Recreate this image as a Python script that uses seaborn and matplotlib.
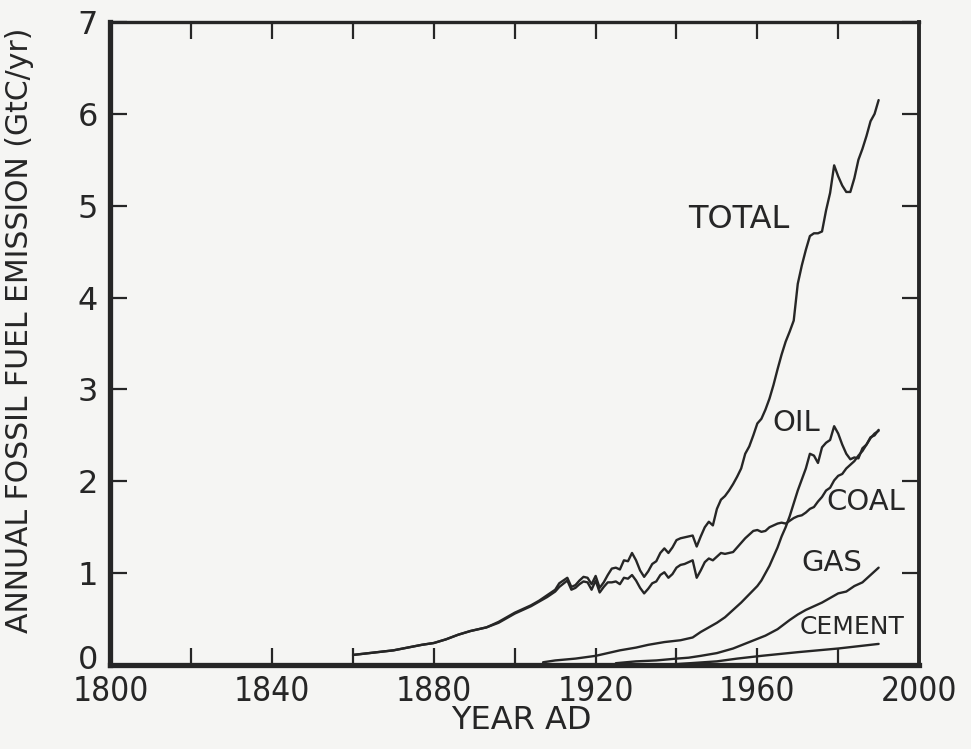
import matplotlib
matplotlib.use("Agg")
import matplotlib.pyplot as plt
import matplotlib.transforms as mtransforms
from matplotlib import font_manager
import seaborn as sns
import pandas as pd

# Annual emissions by source (GtC/yr)
total_years = [1860, 1864, 1870, 1877, 1880, 1883, 1886, 1889, 1893, 1896, 1898, 1900,
               1902, 1904, 1906, 1908, 1910, 1911, 1913, 1914, 1915, 1916, 1917, 1918,
               1919, 1920, 1921, 1922, 1923, 1924, 1925, 1926, 1927, 1928, 1929, 1930,
               1931, 1932, 1933, 1934, 1935, 1936, 1937, 1938, 1939, 1940, 1941, 1942,
               1943, 1944, 1945, 1946, 1947, 1948, 1949, 1950, 1951, 1952, 1953, 1954,
               1955, 1956, 1957, 1958, 1959, 1960, 1961, 1962, 1963, 1964, 1965, 1966,
               1967, 1968, 1969, 1970, 1971, 1972, 1973, 1974, 1975, 1976, 1977, 1978,
               1979, 1980, 1981, 1982, 1983, 1984, 1985, 1986, 1987, 1988, 1989, 1990]
total = [0.11, 0.13, 0.16, 0.22, 0.24, 0.28, 0.33, 0.37, 0.41, 0.47, 0.52, 0.57,
         0.61, 0.65, 0.70, 0.76, 0.82, 0.89, 0.95, 0.85, 0.87, 0.92, 0.96, 0.95,
         0.88, 0.97, 0.84, 0.90, 0.98, 1.05, 1.06, 1.04, 1.14, 1.13, 1.22, 1.14,
         1.03, 0.96, 1.02, 1.10, 1.13, 1.22, 1.27, 1.22, 1.28, 1.36, 1.38, 1.39,
         1.40, 1.41, 1.29, 1.40, 1.50, 1.56, 1.52, 1.70, 1.80, 1.84, 1.90, 1.97,
         2.05, 2.14, 2.30, 2.38, 2.50, 2.63, 2.68, 2.78, 2.90, 3.05, 3.22, 3.38,
         3.52, 3.63, 3.75, 4.15, 4.35, 4.52, 4.67, 4.70, 4.70, 4.72, 4.95, 5.14,
         5.44, 5.32, 5.22, 5.15, 5.15, 5.30, 5.50, 5.62, 5.76, 5.92, 6.00, 6.15]

coal_years = total_years
coal = [0.11, 0.13, 0.16, 0.22, 0.24, 0.28, 0.33, 0.37, 0.41, 0.46, 0.51, 0.56,
        0.60, 0.64, 0.69, 0.74, 0.80, 0.85, 0.92, 0.82, 0.84, 0.88, 0.91, 0.90,
        0.82, 0.92, 0.79, 0.85, 0.90, 0.90, 0.91, 0.88, 0.95, 0.94, 0.98, 0.92,
        0.84, 0.78, 0.83, 0.89, 0.91, 0.98, 1.01, 0.95, 0.99, 1.06, 1.09, 1.10,
        1.12, 1.14, 0.95, 1.03, 1.12, 1.16, 1.14, 1.18, 1.22, 1.21, 1.22, 1.23,
        1.28, 1.33, 1.38, 1.42, 1.46, 1.47, 1.45, 1.46, 1.50, 1.52, 1.54, 1.55,
        1.54, 1.57, 1.60, 1.62, 1.63, 1.66, 1.70, 1.72, 1.78, 1.83, 1.90, 1.93,
        2.01, 2.06, 2.08, 2.14, 2.18, 2.22, 2.28, 2.33, 2.40, 2.47, 2.52, 2.55]

oil_years = [1907, 1910, 1915, 1920, 1923, 1926, 1930, 1933, 1937, 1941, 1944, 1946,
             1948, 1950, 1952, 1954, 1956, 1958, 1960, 1961, 1962, 1963, 1964, 1965,
             1966, 1967, 1968, 1969, 1970, 1971, 1972, 1973, 1974, 1975, 1976, 1977,
             1978, 1979, 1980, 1981, 1982, 1983, 1984, 1985, 1986, 1987, 1988, 1989,
             1990]
oil = [0.03, 0.05, 0.07, 0.10, 0.13, 0.16, 0.19, 0.22, 0.25, 0.27, 0.30, 0.36,
       0.41, 0.46, 0.52, 0.60, 0.68, 0.77, 0.86, 0.92, 1.00, 1.08, 1.18, 1.28,
       1.40, 1.50, 1.62, 1.76, 1.90, 2.02, 2.14, 2.30, 2.28, 2.20, 2.37, 2.42,
       2.45, 2.60, 2.52, 2.40, 2.30, 2.24, 2.26, 2.25, 2.36, 2.40, 2.48, 2.50,
       2.56]

gas_years = [1925, 1930, 1935, 1940, 1943, 1946, 1950, 1954, 1958, 1962, 1965, 1968,
             1970, 1972, 1974, 1976, 1978, 1980, 1982, 1984, 1986, 1988, 1990]
gas = [0.02, 0.04, 0.05, 0.07, 0.08, 0.10, 0.13, 0.18, 0.25, 0.32, 0.39, 0.49,
       0.55, 0.60, 0.64, 0.68, 0.73, 0.78, 0.80, 0.86, 0.90, 0.98, 1.06]

cement_years = [1940, 1950, 1955, 1961, 1970, 1980, 1990]
cement = [0.01, 0.04, 0.07, 0.10, 0.14, 0.18, 0.23]

# Curve labels: (text, year, value, font size)
curve_labels = [("TOTAL", 1943.0, 4.85, 23),
                ("OIL", 1963.6, 2.63, 21),
                ("COAL", 1977.1, 1.77, 21),
                ("GAS", 1970.9, 1.11, 21),
                ("CEMENT", 1970.4, 0.41, 18)]

x_ticks = list(range(1800, 2001, 20))
x_tick_labels = [str(y) if y % 40 == 0 else "" for y in x_ticks]
y_ticks = list(range(0, 8))

sns.set_style("ticks")
plt.rcParams["font.family"] = ["DejaVu Sans"]

# Narrower face for the year labels when a condensed DejaVu is installed
has_condensed = any(f.name == "DejaVu Sans" and f.stretch == "condensed"
                    for f in font_manager.fontManager.ttflist)
year_font = dict(family="DejaVu Sans",
                 stretch="condensed" if has_condensed else "normal",
                 size=24 if has_condensed else 22)

paper = "#f5f5f3"
ink = "#262626"

fig = plt.figure(figsize=(9.71, 7.49), dpi=100, facecolor=paper)
ax = fig.add_axes([0.1138, 0.1121, 0.8327, 0.8585], facecolor=paper)

series = [(total_years, total), (coal_years, coal), (oil_years, oil),
          (gas_years, gas), (cement_years, cement)]
for yrs, vals in series:
    df = pd.DataFrame({"year": yrs, "value": vals})
    sns.lineplot(data=df, x="year", y="value", ax=ax, color=ink,
                 linewidth=1.7, estimator=None, errorbar=None)

for text, yr, val, size in curve_labels:
    ax.text(yr, val, text, fontsize=size, color=ink, ha="left", va="center")

ax.set_xlim(1800, 2000)
ax.set_ylim(0, 7)
ax.set_xticks(x_ticks)
ax.set_xticklabels(x_tick_labels, fontdict=year_font)
ax.set_yticks(y_ticks)
ax.set_yticklabels([str(v) for v in y_ticks])

ax.tick_params(axis="both", direction="in", length=12, width=1.6,
               color=ink, labelcolor=ink, top=True, right=True)
ax.tick_params(axis="x", pad=7)
ax.tick_params(axis="y", labelsize=23, pad=9)

# lift the zero label a little so it clears the year labels
zero_label = ax.get_yticklabels()[0]
zero_label.set_transform(zero_label.get_transform() +
                         mtransforms.ScaledTranslation(0, 6 / 72, fig.dpi_scale_trans))

for side, lw in [("left", 3.8), ("bottom", 3.8), ("top", 2.4), ("right", 2.8)]:
    ax.spines[side].set_visible(True)
    ax.spines[side].set_linewidth(lw)
    ax.spines[side].set_color(ink)

ax.set_xlabel("YEAR AD", fontsize=23, color=ink)
ax.set_ylabel("ANNUAL FOSSIL FUEL EMISSION (GtC/yr)", fontsize=21.5, color=ink)
ax.xaxis.label.set_va("center")
ax.yaxis.label.set_va("center")
ax.xaxis.set_label_coords(0.508, -0.086)
ax.yaxis.set_label_coords(-0.112, 0.52)

fig.savefig("out.png", dpi=100, facecolor=paper)
